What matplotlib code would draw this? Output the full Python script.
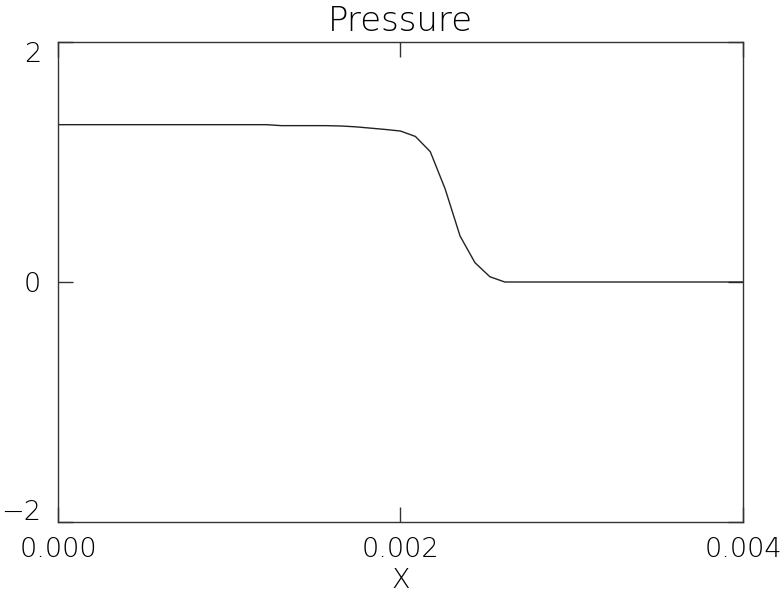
import numpy as np
import matplotlib
matplotlib.use("Agg")
import matplotlib.pyplot as plt
from matplotlib.transforms import ScaledTranslation

# Pressure profile sampled on a uniform grid of 47 nodes over [0, 0.004]
x_min, x_max = 0.0, 0.004
n_nodes = 47
pressure = [
    1.311, 1.311, 1.311, 1.311, 1.311, 1.311, 1.311, 1.311,
    1.311, 1.311, 1.311, 1.311, 1.311, 1.311, 1.311,
    1.303, 1.303, 1.303, 1.303, 1.300,
    1.293, 1.282, 1.271, 1.258, 1.213,
    1.086, 0.775, 0.383, 0.161, 0.044,
    0.0, 0.0, 0.0, 0.0, 0.0, 0.0, 0.0, 0.0,
    0.0, 0.0, 0.0, 0.0, 0.0, 0.0, 0.0, 0.0, 0.0,
]
x = np.linspace(x_min, x_max, n_nodes)

x_ticks = [0.000, 0.002, 0.004]
x_tick_labels = ["0.000", "0.002", "0.004"]
y_ticks = [-2, 0, 2]
y_tick_labels = ["\u22122", "0", "2"]

plt.rcParams["font.family"] = ["DejaVu Sans"]
plt.rcParams["font.weight"] = "light"
plt.rcParams["axes.titleweight"] = "light"
plt.rcParams["axes.labelweight"] = "light"

fig = plt.figure(figsize=(7.84, 5.96), dpi=100)
ax = fig.add_axes([58 / 784, (596 - 522) / 596, 685 / 784, 480 / 596])

ax.plot(x, pressure, color="#222222", linewidth=1.0)

ax.set_xlim(x_min, x_max)
ax.set_ylim(-2, 2)
ax.set_xticks(x_ticks)
ax.set_xticklabels(x_tick_labels)
ax.set_yticks(y_ticks)
ax.set_yticklabels(y_tick_labels)

ax.tick_params(axis="both", direction="in", length=11, width=1.0,
               color="#333333", labelsize=19.5, top=True, right=True)
ax.tick_params(axis="x", pad=11)
ax.tick_params(axis="y", pad=12)
for sp in ax.spines.values():
    sp.set_linewidth(1.0)
    sp.set_color("#333333")

# keep the end labels of the y axis inside the axis range
ylabels = ax.get_yticklabels()
ylabels[0].set_va("bottom")
ylabels[0].set_transform(ylabels[0].get_transform()
                         + ScaledTranslation(0, -3 / 100, fig.dpi_scale_trans))
ylabels[2].set_va("top")

ax.set_title("Pressure", fontsize=24.5, pad=8, fontweight="light")
ax.set_xlabel("X", fontsize=19.5, labelpad=4, fontweight="light")

fig.savefig("out.png", dpi=100)
